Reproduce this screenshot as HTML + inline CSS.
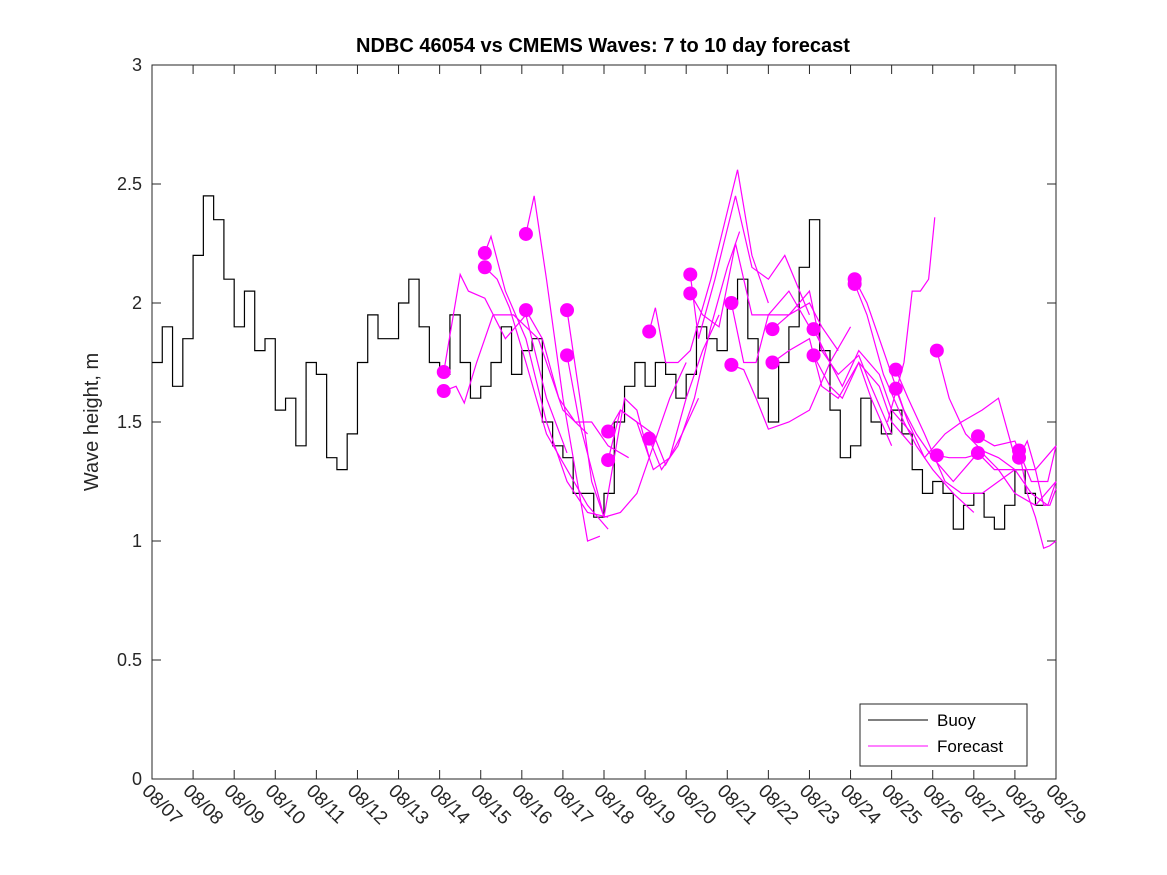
<!DOCTYPE html>
<html><head><meta charset="utf-8"><style>
body{margin:0;background:#fff}
svg{display:block;font-family:"Liberation Sans","DejaVu Sans",sans-serif}
</style></head><body>
<svg id="chart" width="1167" height="875" viewBox="0 0 1167 875" xmlns="http://www.w3.org/2000/svg">
<rect width="1167" height="875" fill="#fff"/>
<text x="603" y="52" text-anchor="middle" font-size="20" font-weight="bold" fill="#000">NDBC 46054 vs CMEMS Waves: 7 to 10 day forecast</text>
<text transform="translate(98,422) rotate(-90)" text-anchor="middle" font-size="20" fill="#262626">Wave height, m</text>
<g id="plot"></g>
<g>
<rect x="860" y="704" width="167" height="62" fill="#fff" stroke="#262626" stroke-width="1"/>
<line x1="868" y1="720" x2="928" y2="720" stroke="#000" stroke-width="1"/>
<text x="937" y="726" font-size="17" fill="#000">Buoy</text>
<line x1="868" y1="746" x2="928" y2="746" stroke="#ff00ff" stroke-width="1"/>
<text x="937" y="752" font-size="17" fill="#000">Forecast</text>
</g>
</svg>
<script>
const xTickLabels=["08/07","08/08","08/09","08/10","08/11","08/12","08/13","08/14","08/15","08/16","08/17","08/18","08/19","08/20","08/21","08/22","08/23","08/24","08/25","08/26","08/27","08/28","08/29"];
const yTicks=[0,0.5,1,1.5,2,2.5,3];
const yTickLabels=["0","0.5","1","1.5","2","2.5","3"];
const buoyStart=7;
const buoyStep=0.25;
const buoyValues=[
1.75,1.9,1.65,1.85, 2.2,2.45,2.35,2.1, 1.9,2.05,1.8,1.85,
1.55,1.6,1.4,1.75, 1.7,1.35,1.3,1.45, 1.75,1.95,1.85,1.85,
2.0,2.1,1.9,1.75, 1.7,1.95,1.75,1.6, 1.65,1.75,1.9,1.7,
1.8,1.85,1.5,1.4, 1.35,1.2,1.2,1.1, 1.2,1.5,1.65,1.75,
1.65,1.75,1.7,1.6, 1.7,1.9,1.85,1.8, 2.0,2.1,1.85,1.6,
1.5,1.75,1.9,2.15, 2.35,1.8,1.55,1.35, 1.4,1.6,1.5,1.45,
1.55,1.45,1.3,1.2, 1.25,1.2,1.05,1.15, 1.2,1.1,1.05,1.15,
1.3,1.2,1.15];
const forecastDays=[
[14.1,14.5,14.7,15.1,15.6,16.1,16.6,17.1],
[14.1,14.4,14.6,14.9,15.3,15.8,16.4,17.0,17.6],
[15.1,15.25,15.6,16.1,16.6,17.1,17.6,18.1],
[15.1,15.4,15.7,16.1,16.6,17.1,17.6,18.1],
[16.1,16.3,16.6,17.0,17.3,17.6,17.9],
[16.1,16.5,16.9,17.3,17.7,18.1,18.6],
[17.1,17.5,17.7,18.0,18.5,18.8,19.1],
[17.1,17.4,17.7,18.0,18.4,18.8,19.2,19.6,20.0],
[18.1,18.4,18.8,19.2,19.5,19.9,20.3],
[18.1,18.4,18.8,19.2,19.6,20.0,20.4,20.8],
[19.1,19.25,19.5,19.8,20.1,20.6,21.25,21.6,22.0],
[19.1,19.4,19.8,20.2,20.6,21.0,21.3],
[20.1,20.3,20.7,21.2,21.6,22.0,22.4,23.0],
[20.1,20.4,20.8,21.2,21.6,22.0,22.5,23.0],
[21.1,21.4,21.7,22.0,22.5,23.0,23.3,23.7],
[21.1,21.4,21.7,22.0,22.5,23.0,23.5,24.0],
[22.1,22.5,23.0,23.3,23.7,24.2,24.5,25.0],
[22.1,22.5,23.0,23.3,23.7,24.2,24.5,25.0],
[23.1,23.5,23.8,24.2,24.7,25.0,25.5],
[23.1,23.5,23.8,24.2,24.7,25.0,25.5],
[24.1,24.4,24.8,25.3,25.6,26.0,26.5,27.0],
[24.1,24.4,24.8,25.3,25.6,26.0,26.5,27.0],
[25.1,25.4,25.8,26.3,26.7,27.2,27.6,28.0],
[25.1,25.4,25.8,26.3,26.7,27.2,27.6,28.0],
[24.9,25.3,25.5,25.7,25.9,26.05],
[26.1,26.4,26.8,27.2,27.6,28.0,28.5,29.0],
[26.1,26.4,26.8,27.2,27.6,28.0,28.5,29.0],
[27.1,27.5,28.0,28.4,28.8,29.0],
[27.1,27.5,28.0,28.4,28.8,29.0],
[28.1,28.3,28.5,28.7,28.85,29.0],
[28.1,28.3,28.5,28.7,28.85,29.0]];
const forecastValues=[
[1.71,2.12,2.05,2.02,1.85,1.95,1.6,1.37],
[1.63,1.65,1.58,1.75,1.95,1.95,1.85,1.55,1.45],
[2.21,2.28,2.05,1.85,1.5,1.25,1.12,1.1],
[2.15,2.1,1.98,1.75,1.45,1.3,1.15,1.05],
[2.29,2.45,2.1,1.6,1.3,1.0,1.02],
[1.97,1.85,1.6,1.5,1.5,1.4,1.35],
[1.97,1.5,1.25,1.1,1.6,1.55,1.35],
[1.78,1.5,1.3,1.1,1.12,1.2,1.4,1.6,1.75],
[1.46,1.55,1.5,1.45,1.32,1.45,1.6],
[1.34,1.55,1.5,1.3,1.35,1.6,1.8,1.95],
[1.88,1.98,1.75,1.75,1.8,2.1,2.56,2.2,2.0],
[1.43,1.3,1.4,1.6,1.9,2.15,2.3],
[2.12,1.85,2.1,2.45,2.15,2.1,2.2,1.95],
[2.04,1.95,1.9,2.25,1.95,1.95,2.05,1.9],
[2.0,1.75,1.75,1.95,1.95,2.0,1.9,1.8],
[1.74,1.72,1.6,1.47,1.5,1.55,1.75,1.9],
[1.89,1.95,2.05,1.8,1.7,1.78,1.65,1.45],
[1.75,1.8,1.85,1.65,1.6,1.75,1.6,1.4],
[1.89,1.75,1.65,1.8,1.7,1.55,1.45],
[1.78,1.65,1.6,1.75,1.65,1.5,1.4],
[2.1,2.0,1.8,1.55,1.45,1.35,1.25,1.35],
[2.08,1.95,1.7,1.5,1.4,1.3,1.2,1.12],
[1.72,1.6,1.45,1.25,1.2,1.2,1.25,1.3],
[1.64,1.5,1.35,1.45,1.5,1.55,1.6,1.35],
[1.5,1.75,2.05,2.05,2.1,2.36],
[1.8,1.6,1.45,1.38,1.35,1.3,1.3,1.4],
[1.36,1.35,1.35,1.37,1.3,1.2,1.15,1.25],
[1.44,1.4,1.42,1.25,1.25,1.4],
[1.37,1.3,1.3,1.2,1.15,1.25],
[1.38,1.2,1.1,0.97,0.98,1.0],
[1.35,1.42,1.3,1.15,1.15,1.22]];

const X0=152,X1=1056,Y0=779,Y1=65,D0=7,D1=29,V1=3;
const xs=d=>X0+(d-D0)*(X1-X0)/(D1-D0);
const ys=v=>Y0-v*(Y0-Y1)/V1;
const NS="http://www.w3.org/2000/svg";
const plot=document.getElementById('plot');
function mk(tag,attrs,parent){const e=document.createElementNS(NS,tag);for(const k in attrs)e.setAttribute(k,attrs[k]);(parent||plot).appendChild(e);return e;}

// axes box
const box=mk('rect',{x:X0,y:Y1,width:X1-X0,height:Y0-Y1,fill:'none',stroke:'#262626','stroke-width':1});



// y ticks
yTicks.forEach((t,i)=>{
  const y=ys(t);
  const a=mk('line',{x1:X0,y1:y,x2:X0+9,y2:y,stroke:'#262626'});
  
  
  const b=mk('line',{x1:X1,y1:y,x2:X1-9,y2:y,stroke:'#262626'});
  
  
  const tx=mk('text',{x:X0-10,y:y+6,'text-anchor':'end','font-size':18,fill:'#262626'});
  tx.textContent=yTickLabels[i];
  
  
});
// x ticks
xTickLabels.forEach((l,i)=>{
  const x=xs(D0+i);
  const a=mk('line',{x1:x,y1:Y0,x2:x,y2:Y0-9,stroke:'#262626'});
  
  
  const b=mk('line',{x1:x,y1:Y1,x2:x,y2:Y1+9,stroke:'#262626'});
  
  
  const tx=mk('text',{x:0,y:0,'font-size':19,fill:'#262626',transform:`translate(${x-11},${Y0+13}) rotate(45)`});
  tx.textContent=l;
  
  
});

// buoy stairs
let d='';
buoyValues.forEach((v,i)=>{
  const x=xs(buoyStart+i*buoyStep), y=ys(v);
  if(i===0) d+=`M${x},${y}`; else d+=`V${y}`;
  d+=`H${xs(buoyStart+(i+1)*buoyStep)}`;
});
const bl=mk('path',{d:d,fill:'none',stroke:'#000','stroke-width':1.2});



// forecasts
forecastDays.forEach((days,k)=>{
  const vals=forecastValues[k];
  const p=days.map((dd,j)=>`${j?'L':'M'}${xs(dd)},${ys(vals[j])}`).join('');
  const fl=mk('path',{d:p,fill:'none',stroke:'#ff00ff','stroke-width':1.2});
  
  
  if(k!==24){
    const c=mk('circle',{cx:xs(days[0]),cy:ys(vals[0]),r:7,fill:'#ff00ff'});
    
    
  }
});
</script>
</body></html>
